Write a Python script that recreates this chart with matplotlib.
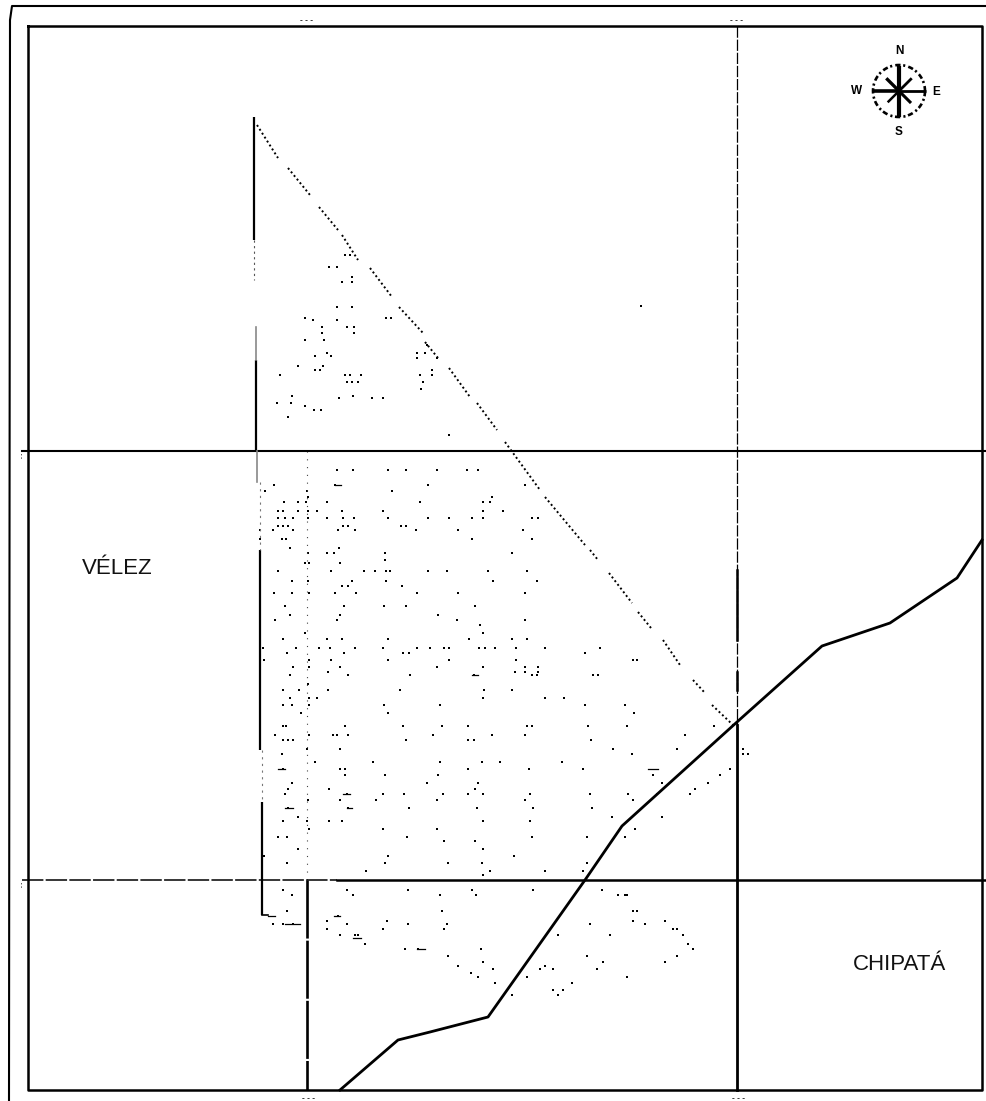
import numpy as np
import matplotlib
matplotlib.use('Agg')
import matplotlib.pyplot as plt

WIDTH, HEIGHT = 986, 1101

# frames
frame_x = [28, 982, 982, 28, 28]
frame_y = [26, 26, 1090, 1090, 26]
outer_x = [9, 10, 12, 986]
outer_y = [1101, 20, 6, 6]

# border between the two municipios
road_x = [340, 398, 430, 488, 585, 622, 737, 822, 890, 957, 982]
road_y = [1090, 1040, 1032, 1017, 880, 826, 722, 646, 623, 578, 540]

# solid pieces of the west side of the polygon (x, y0, y1)
west_x = [254, 256, 260, 262]
west_y0 = [117, 360, 550, 802]
west_y1 = [240, 450, 750, 915]

# dotted pieces of the diagonal side
diag_x0 = [257, 288, 319, 342, 370, 399, 425, 449, 477, 505, 545, 590, 609, 638, 663, 693, 712]
diag_y0 = [125, 168, 207, 235, 268, 307, 342, 368, 403, 442, 497, 550, 573, 612, 640, 680, 705]
diag_x1 = [278, 310, 338, 358, 392, 423, 438, 470, 497, 540, 585, 598, 632, 651, 680, 705, 733]
diag_y1 = [158, 195, 230, 260, 297, 333, 358, 397, 430, 490, 545, 560, 603, 628, 665, 693, 725]

# scattered points, one row per y
row_y = [255, 267, 277, 282, 307, 318, 320, 327, 333, 340, 345, 353, 356, 358, 366, 370, 375,
         382, 389, 396, 398, 403, 406, 410, 417, 435,
         470, 485, 491, 497, 502, 511, 518, 526, 530, 539, 548, 553, 560, 563, 571, 581, 586,
         593, 606, 615, 620, 625, 633, 639, 648, 653, 660, 667, 672, 675, 684, 690, 698, 705,
         713, 726, 735, 740, 749, 754, 762, 769, 775, 783, 789, 794, 800, 808, 817, 821, 829,
         837, 841, 849, 856, 863, 871, 875, 890, 895, 911, 916, 921, 924, 929, 935, 944, 949,
         956, 962, 966, 969, 973, 977, 983, 990, 995, 306]
row_x = [
    [345, 350], [329, 337], [352], [342, 352], [337, 352], [386, 391, 305], [313, 337],
    [322, 347, 354], [322, 354], [305, 324], [427], [327, 425, 417], [315, 331], [417, 437],
    [298, 323], [315, 320, 432], [280, 345, 350, 361, 432, 420], [347, 352, 358, 423], [421],
    [292, 353], [339, 372, 383], [277, 291], [305], [314, 321], [288], [449],
    [337, 353, 388, 406, 437, 467, 478], [274, 335, 428, 525], [265, 307, 392], [308, 492],
    [284, 298, 306, 327, 420, 483, 490], [278, 283, 298, 308, 317, 342, 383, 483, 503],
    [278, 285, 293, 308, 327, 343, 354, 388, 428, 449, 472, 483, 532, 538],
    [278, 283, 288, 343, 348, 401, 406], [260, 273, 293, 338, 355, 416, 458, 523],
    [260, 282, 286, 472, 532], [290, 339], [308, 327, 334, 385, 512], [385],
    [305, 309, 340], [278, 331, 364, 375, 386, 390, 428, 447, 488, 527],
    [292, 308, 352, 386, 493, 537], [342, 348, 402],
    [274, 292, 309, 335, 356, 417, 458, 525], [285, 344, 384, 406, 475], [290, 340, 438],
    [275, 337, 457, 525], [480], [305, 483], [283, 327, 342, 388, 469, 512, 527],
    [263, 296, 319, 330, 355, 383, 417, 430, 444, 449, 479, 485, 495, 516, 600, 545],
    [287, 344, 409, 403, 585], [264, 309, 331, 388, 449, 516, 633, 637],
    [293, 309, 340, 437, 483, 525, 538], [328, 515, 525, 538],
    [290, 348, 410, 474, 532, 537, 593, 598], [308], [283, 299, 328, 400, 484, 512],
    [290, 309, 317, 483, 545, 564], [283, 292, 309, 384, 440, 585, 625], [301, 388, 634],
    [283, 286, 345, 403, 442, 468, 527, 532, 627, 588, 714], [275, 309, 333, 337, 348, 433, 525, 492, 685],
    [283, 288, 293, 406, 468, 474, 591], [307, 340, 613, 677, 743],
    [282, 632, 743, 748], [315, 373, 440, 482, 500, 562], [283, 340, 345, 468, 529, 583, 730],
    [345, 385, 438, 653, 720], [292, 427, 478, 662, 708], [288, 329, 475, 695],
    [285, 347, 383, 404, 443, 468, 483, 530, 590, 628, 657, 690],
    [308, 340, 376, 437, 525, 633], [288, 348, 409, 477, 533, 592], [298, 612, 662],
    [283, 307, 329, 342, 483, 530], [309, 383, 437, 620, 635], [278, 287, 407, 532, 587, 625],
    [444, 475], [298, 483], [264, 388, 514], [287, 385, 448, 482, 587], [366, 490, 545, 583],
    [483], [283, 347, 408, 472, 533, 602], [292, 353, 440, 476, 625, 618, 627], [287, 442, 637, 633],
    [338], [327, 387, 633, 665], [273, 283, 293, 347, 408, 447, 590, 645],
    [327, 383, 444, 677, 673], [340, 355, 358, 610, 558, 683], [365, 688], [405, 418, 481, 693],
    [448, 587, 677], [483, 603, 665], [458, 545], [493, 540, 553, 597], [471],
    [478, 527, 627], [495, 572], [553, 563], [512, 558], [641],
]

# short horizontal dashes in the lower part of the sheet (x0, x1, y)
dash_x0 = [268, 285, 347, 334, 353, 417, 278, 285, 343, 335, 648, 472]
dash_x1 = [275, 300, 352, 340, 361, 425, 285, 293, 350, 341, 658, 478]
dash_y = [916, 924, 808, 916, 938, 949, 769, 808, 794, 485, 769, 675]

# compass rose
compass_angle = [90, 45, 0, -45, -90, -135, 180, 135]
compass_len = [25, 18, 27, 17, 26, 16, 27, 18]
compass_lw = [3.0, 2.0, 2.0, 2.2, 3.0, 1.8, 2.6, 2.4]
compass_letters = ['N', 'E', 'S', 'W']
compass_letter_x = [899, 936, 899, 857]
compass_letter_y = [51, 92, 132, 91]

place_names = ['VÉLEZ', 'CHIPATÁ']
place_x = [117, 899]
place_y = [568, 964]

# coordinate labels of the grid, illegible in the scan
grid_x = [307, 737]
grid_y = [451, 880]


def draw_grid(ax):
    """Grid lines: thin and broken in some stretches, heavy in others."""
    ax.plot([737, 737], [26, 725], color='black', lw=0.9, ls=(0, (9, 1.5)))
    ax.plot([737, 737], [570, 640], color='black', lw=1.8)
    ax.plot([737, 737], [672, 690], color='black', lw=1.8)
    ax.plot([737, 737], [725, 1090], color='black', lw=2.0)

    ax.plot([307, 307], [451, 880], color='#444444', lw=0.8, ls=(0, (1, 6)))
    ax.plot([307, 307], [880, 1090], color='black', lw=1.9, ls=(0, (22, 0.8)))

    ax.plot([22, 986], [451, 451], color='black', lw=1.5)
    ax.plot([22, 337], [880, 880], color='black', lw=1.1, ls=(0, (14, 1.5)))
    ax.plot([337, 986], [880, 880], color='black', lw=1.8)


def draw_polygon(ax):
    for x, y0, y1 in zip(west_x, west_y0, west_y1):
        ax.plot([x, x], [y0, y1], color='black', lw=1.6, solid_capstyle='butt')
    ax.plot([254, 254], [240, 280], color='#555555', lw=0.8, ls=(0, (2, 3)))
    ax.plot([256, 256], [327, 360], color='#888888', lw=1.2)
    ax.plot([257, 257], [451, 482], color='#888888', lw=1.2)
    ax.plot([260, 260], [482, 550], color='#777777', lw=0.8, ls=(0, (2, 4)))
    ax.plot([262, 262], [750, 802], color='#777777', lw=0.8, ls=(0, (2, 4)))
    ax.plot([262, 268], [915, 915], color='black', lw=1.2)

    for x0, y0, x1, y1 in zip(diag_x0, diag_y0, diag_x1, diag_y1):
        ax.plot([x0, x1], [y0, y1], color='black', lw=1.4, ls=(0, (1, 1.4)))


def draw_points(ax):
    xs, ys = [], []
    for y, row in zip(row_y, row_x):
        xs.extend(row)
        ys.extend([y] * len(row))
    ax.scatter(xs, ys, s=3.5, c='black', marker='s', linewidths=0)
    for x0, x1, y in zip(dash_x0, dash_x1, dash_y):
        ax.plot([x0, x1], [y, y], color='black', lw=0.9)


def draw_compass(ax, cx=899, cy=91):
    t = np.radians(np.arange(0, 361, 5))
    ax.plot(cx + 26 * np.cos(t), cy + 26 * np.sin(t), color='black',
            lw=1.9, ls=(0, (2.0, 1.0, 0.8, 1.2)))
    for a, r, w in zip(compass_angle, compass_len, compass_lw):
        rad = np.radians(a)
        ax.plot([cx, cx + r * np.cos(rad)], [cy, cy - r * np.sin(rad)],
                color='black', lw=w, solid_capstyle='butt')
    for s, x, y in zip(compass_letters, compass_letter_x, compass_letter_y):
        ax.text(x, y, s, fontsize=8.5, fontweight='bold', ha='center', va='center',
                family='Liberation Sans', color='black')


def main():
    fig = plt.figure(figsize=(WIDTH / 100, HEIGHT / 100), dpi=100)
    ax = fig.add_axes([0, 0, 1, 1])
    ax.set_xlim(0, WIDTH)
    ax.set_ylim(HEIGHT, 0)
    ax.axis('off')

    ax.plot(frame_x, frame_y, color='black', lw=1.8)
    ax.plot(outer_x, outer_y, color='black', lw=1.5)

    draw_grid(ax)
    draw_polygon(ax)
    draw_points(ax)

    ax.plot(road_x, road_y, color='black', lw=2.0)

    draw_compass(ax)

    for s, x, y in zip(place_names, place_x, place_y):
        ax.text(x, y, s, fontsize=16, ha='center', va='center',
                family='Liberation Sans', color='#111111')

    # smudged tick labels
    for x in grid_x:
        ax.text(x - 1, 20, '- - -', fontsize=6, fontweight='bold', ha='center', va='center',
                family='Liberation Sans')
        ax.text(x + 1, 1098, '- - -', fontsize=6, fontweight='bold', ha='center', va='center',
                family='Liberation Sans')
    for y in grid_y:
        ax.text(22, y + 4, '- -', fontsize=4, fontweight='bold', rotation=90, ha='center', va='center',
                family='Liberation Sans')

    fig.savefig('out.png', dpi=100, facecolor='white')


if __name__ == "__main__":
    main()
